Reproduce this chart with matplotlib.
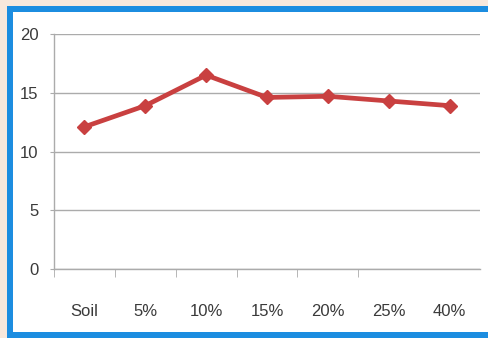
import matplotlib
matplotlib.use('Agg')
import matplotlib.pyplot as plt
from matplotlib.patches import Rectangle

# data
categories = ['Soil', '5%', '10%', '15%', '20%', '25%', '40%']
values = [12.1, 13.9, 16.5, 14.6, 14.7, 14.3, 13.9]
y_ticks = [0, 5, 10, 15, 20]

plt.rcParams['font.family'] = ['Liberation Sans', 'DejaVu Sans']

W, H = 488, 338
fig = plt.figure(figsize=(W / 100, H / 100), dpi=100)
fig.patch.set_facecolor('#f8e8dc')

# blue frame (left, top, bottom) and white panel
fig.patches.append(Rectangle((7 / W, 0), 1, 1 - 6 / H, transform=fig.transFigure,
                             facecolor='#1c8de0', edgecolor='none', zorder=-10))
fig.patches.append(Rectangle((13 / W, 6 / H), 1, 1 - 18 / H, transform=fig.transFigure,
                             facecolor='white', edgecolor='none', zorder=-9))

ax = fig.add_axes([54 / W, 1 - 269 / H, 426 / W, 235 / H])
ax.set_facecolor('none')

x = list(range(len(categories)))
ax.plot(x, values, color='#c94040', linewidth=3.4, marker='D', markersize=7.5,
        markeredgecolor='#c94040', zorder=3)

ax.set_xlim(-0.5, len(categories) - 0.5)
ax.set_ylim(0, 20)
ax.set_yticks(y_ticks)
ax.grid(axis='y', color='#ababab', linewidth=1)
ax.set_axisbelow(True)

ax.set_xticks(x)
ax.set_xticklabels(categories)
ax.set_xticks([i - 0.5 for i in range(6)], minor=True)
ax.tick_params(axis='x', which='major', length=0, pad=25, labelsize=12, labelcolor='#3a3a3a')
ax.tick_params(axis='x', which='minor', length=6, color='#ababab', direction='out')
ax.tick_params(axis='y', length=3, color='#ababab', pad=8, labelsize=12, labelcolor='#3a3a3a')

for s in ['top', 'right']:
    ax.spines[s].set_visible(False)
for s in ['left', 'bottom']:
    ax.spines[s].set_color('#ababab')
    ax.spines[s].set_linewidth(1)

plt.savefig('out.png', dpi=100, facecolor=fig.get_facecolor())
